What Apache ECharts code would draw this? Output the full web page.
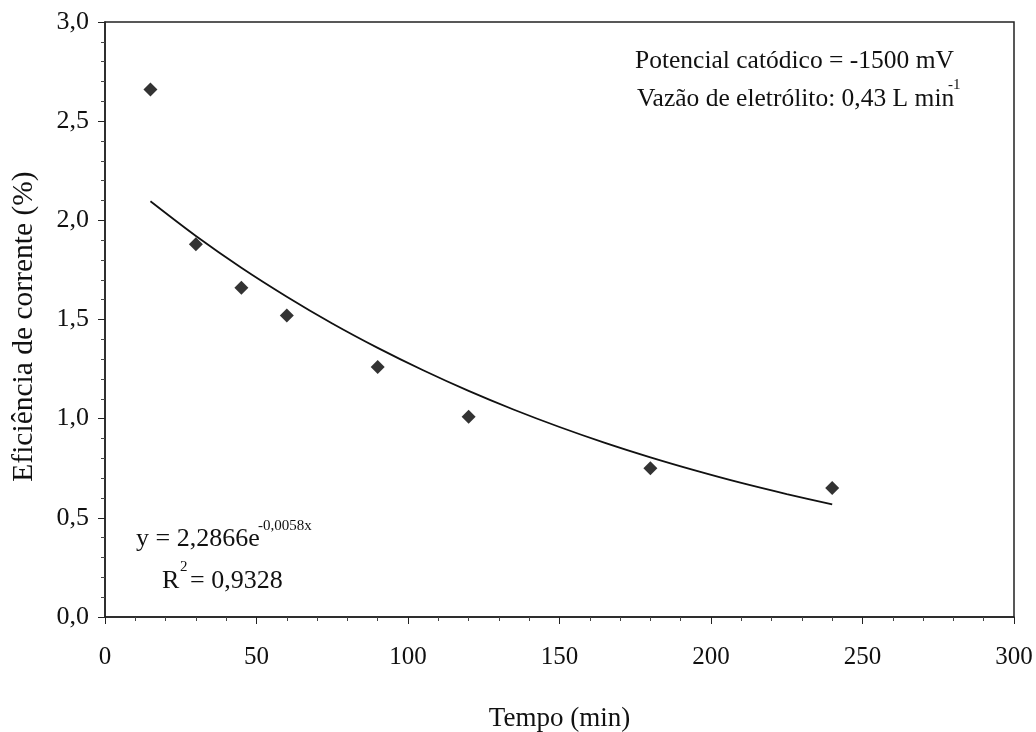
<!DOCTYPE html>
<html>
<head>
<meta charset="utf-8">
<script src="https://cdn.jsdelivr.net/npm/echarts@6/dist/echarts.min.js"></script>
<style>
  html, body { margin: 0; padding: 0; background: #fff; }
  #chart { width: 1036px; height: 732px; }
</style>
</head>
<body>
<div id="chart"></div>
<script>
// measured points (Tempo, Eficiência)
const tempo = [15, 30, 45, 60, 90, 120, 180, 240];
const eficiencia = [2.66, 1.88, 1.66, 1.52, 1.26, 1.01, 0.75, 0.65];

// trend line
const curvaX = [15, 30, 45, 60, 75, 90, 105, 120, 135, 150, 165, 180, 195, 210, 225, 240];
const curvaY = [2.096, 1.921, 1.761, 1.615, 1.480, 1.357, 1.244, 1.140, 1.045, 0.958, 0.878, 0.805, 0.738, 0.676, 0.620, 0.568];

const xTicks = [0, 50, 100, 150, 200, 250, 300];
const yTicks = ['0,0', '0,5', '1,0', '1,5', '2,0', '2,5', '3,0'];

const font = '"Liberation Serif", "Times New Roman", serif';
const chart = echarts.init(document.getElementById('chart'));

const txt = (x, y, text, size) => ({
  type: 'text', left: x, top: y,
  style: { text: text, font: size + 'px ' + font, fill: '#111' }
});

chart.setOption({
  animation: false,
  grid: { left: 105, right: 22, top: 22, bottom: 115, outerBoundsMode: 'none',
    show: true, borderColor: '#222', borderWidth: 1.5 },
  xAxis: {
    type: 'value', min: 0, max: 300, interval: 50,
    name: 'Tempo (min)', nameLocation: 'middle', nameGap: 88,
    nameTextStyle: { fontFamily: font, fontSize: 27, color: '#111' },
    axisLine: { lineStyle: { color: '#222', width: 1.5 } },
    axisTick: { show: true, length: 7, lineStyle: { color: '#222' } },
    minorTick: { show: true, splitNumber: 5, length: 4, lineStyle: { color: '#444' } },
    splitLine: { show: false },
    axisLabel: { fontFamily: font, fontSize: 25, color: '#111', margin: 28,
      formatter: v => xTicks.includes(v) ? String(v) : '' }
  },
  yAxis: {
    type: 'value', min: 0, max: 3, interval: 0.5,
    name: 'Eficiência de corrente (%)', nameLocation: 'middle', nameGap: 66, nameRotate: 90,
    nameTextStyle: { fontFamily: font, fontSize: 29.5, color: '#111', padding: [0, 14, 0, 0] },
    axisLine: { show: true, lineStyle: { color: '#222', width: 1.5 } },
    axisTick: { show: true, length: 7, lineStyle: { color: '#222' } },
    minorTick: { show: true, splitNumber: 5, length: 4, lineStyle: { color: '#444' } },
    splitLine: { show: false },
    axisLabel: { fontFamily: font, fontSize: 26, color: '#111', margin: 16,
      formatter: v => yTicks[Math.round(v * 2)] }
  },
  graphic: [
    txt(635, 48, 'Potencial catódico = -1500 mV', 25.5),
    txt(637, 86, 'Vazão de eletrólito: 0,43 L min', 25.5),
    txt(948, 78, '-1', 15),
    txt(136, 526, 'y = 2,2866e', 26),
    txt(258, 519, '-0,0058x', 15),
    txt(162, 568, 'R', 26),
    txt(180, 560, '2', 15),
    txt(190, 568, '= 0,9328', 26)
  ],
  series: [
    {
      type: 'line', data: curvaX.map((x, i) => [x, curvaY[i]]),
      smooth: 0.3, showSymbol: false, symbol: 'none',
      lineStyle: { color: '#111', width: 1.8 }, z: 2
    },
    {
      type: 'scatter', data: tempo.map((x, i) => [x, eficiencia[i]]),
      symbol: 'diamond', symbolSize: 14,
      itemStyle: { color: '#000' }, z: 3
    }
  ]
});
</script>
</body>
</html>
